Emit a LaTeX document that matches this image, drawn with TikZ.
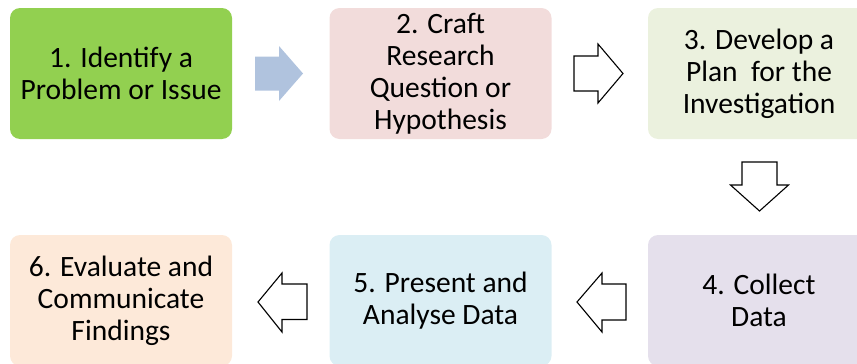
\documentclass[tikz,border=0pt]{standalone}
\usepackage{fontspec}
\setmainfont{Carlito}
\begin{document}
\begin{tikzpicture}[x=1pt,y=-1pt,
  stepbox/.style={rounded corners=10pt, minimum width=222pt, minimum height=131pt,
    align=center, inner sep=0pt, font=\fontsize{29.5}{32}\selectfont, text=black},
  outarrow/.style={draw=black, line width=1.1pt, fill=white, line join=miter},
  filledarrow/.style={fill=arrowblue, draw=none}]
\definecolor{cgreen}{HTML}{92D050}
\definecolor{cpink}{HTML}{F2DCDB}
\definecolor{colive}{HTML}{EBF1DE}
\definecolor{cpurple}{HTML}{E5E0EC}
\definecolor{cblue}{HTML}{DBEEF4}
\definecolor{corange}{HTML}{FDE9D9}
\definecolor{arrowblue}{HTML}{B0C3DE}
\useasboundingbox (0,0) rectangle (857,364);
\begin{scope}
\clip (0,0) rectangle (857,364);
\node[stepbox, fill=cgreen] (b1) at (121,73.5) {1. Identify a\\Problem or Issue};
\node[stepbox, fill=cpink] (b2) at (440.5,73.5) {2. Craft\\Research\\Question or\\Hypothesis};
\node[stepbox, fill=colive] (b3) at (759,73.5) {3. Develop a\\Plan\ \ for the\\Investigation};
\node[stepbox, fill=cpurple] (b4) at (759,300.5) {4. Collect\\Data};
\node[stepbox, fill=cblue] (b5) at (440.5,300.5) {5. Present and\\Analyse Data};
\node[stepbox, fill=corange] (b6) at (121,300.5) {6. Evaluate and\\Communicate\\Findings};
\end{scope}
% arrow 1 -> 2 (filled)
\fill[filledarrow] (255,56.5) -- (279,56.5) -- (279,46) -- (303,73.5) -- (279,101) -- (279,90.5) -- (255,90.5) -- cycle;
% arrow 2 -> 3
\draw[outarrow] (574,56) -- (598,56) -- (598,44) -- (623,73.5) -- (598,103) -- (598,91) -- (574,91) -- cycle;
% arrow 3 -> 4
\draw[outarrow] (742,162) -- (777,162) -- (777,185) -- (788.5,185) -- (759.5,211) -- (730.5,185) -- (742,185) -- cycle;
% arrow 4 -> 5
\draw[outarrow] (626,284) -- (602,284) -- (602,273) -- (577,302) -- (602,332) -- (602,320) -- (626,320) -- cycle;
% arrow 5 -> 6
\draw[outarrow] (307,284) -- (282,284) -- (282,273) -- (258,302) -- (282,332) -- (282,319.5) -- (307,319.5) -- cycle;
\end{tikzpicture}
\end{document}
